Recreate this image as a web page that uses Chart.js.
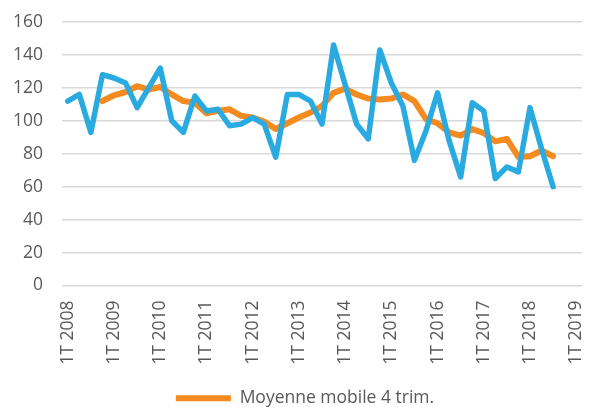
<!DOCTYPE html>
<html><head><meta charset="utf-8">
<script src="https://cdn.jsdelivr.net/npm/chart.js@4"></script>
<style>html,body{margin:0;padding:0;background:#fff}#wrap{width:590px;height:407px;position:relative}</style>
</head><body><div id="wrap"><canvas id="c"></canvas></div>
<script>
const categories = [
  '1T 2008','2T 2008','3T 2008','4T 2008',
  '1T 2009','2T 2009','3T 2009','4T 2009',
  '1T 2010','2T 2010','3T 2010','4T 2010',
  '1T 2011','2T 2011','3T 2011','4T 2011',
  '1T 2012','2T 2012','3T 2012','4T 2012',
  '1T 2013','2T 2013','3T 2013','4T 2013',
  '1T 2014','2T 2014','3T 2014','4T 2014',
  '1T 2015','2T 2015','3T 2015','4T 2015',
  '1T 2016','2T 2016','3T 2016','4T 2016',
  '1T 2017','2T 2017','3T 2017','4T 2017',
  '1T 2018','2T 2018','3T 2018','4T 2018',
  '1T 2019'
];
const quarterly = [112,116,93,128,126,123,108,120,132,100,93,115,106,107,97,98,102,98,78,116,116,112,98,146,122,98,89,143,123,109,76,94,117,88,66,111,106,65,72,69,108,83,60];
const movingAvg = [null,null,null,112,115.5,117.5,121,119,120.5,116,112,111,104.5,106,107,103,102,99.5,95,98.5,102,105,109,117,119.5,116,113.5,113,113.5,116,112,101,98.5,93,91,95,92.5,87.5,89,78,78.5,82,78.5];
const yTicks = [0,20,40,60,80,100,120,140,160];
const seriesNames = ['Trimestriel','Moyenne mobile 4 trim.'];

const textColor = '#595959';
const fontFamily = 'Open Sans';

const legendShift = {
  id: 'legendShift',
  afterLayout(chart) {
    const lg = chart.legend;
    if (lg) { lg.left += 14; lg.right += 14; }
  }
};

new Chart(document.getElementById('c'), {
  type: 'line',
  data: {
    labels: categories,
    datasets: [
      {label: seriesNames[0], data: quarterly, borderColor: '#29ABE2', backgroundColor: '#29ABE2',
       borderWidth: 5.5, pointRadius: 0, tension: 0, borderJoinStyle: 'round', borderCapStyle: 'round', fill: false},
      {label: seriesNames[1], data: movingAvg, borderColor: '#F58A1F', backgroundColor: '#F58A1F',
       borderWidth: 6, pointRadius: 0, tension: 0, borderJoinStyle: 'round', borderCapStyle: 'round', fill: false}
    ]
  },
  plugins: [legendShift],
  options: {
    responsive: true, maintainAspectRatio: false, animation: false,
    layout: {padding: {left: 0, right: 8, top: 22, bottom: -10}},
    plugins: {
      tooltip: {enabled: false},
      legend: {
        position: 'bottom',
        labels: {
          usePointStyle: true, pointStyle: 'line', pointStyleWidth: 55, padding: 0,
          color: textColor, font: {family: fontFamily, size: 17.5},
          filter: (item) => item.datasetIndex === 1
        }
      }
    },
    scales: {
      x: {
        offset: true,
        grid: {display: false, drawTicks: false},
        border: {display: false},
        ticks: {
          autoSkip: false, maxRotation: 90, minRotation: 90, padding: 15,
          color: textColor, font: {family: fontFamily, size: 17.5},
          callback: function(v, i) { return i % 4 === 0 ? categories[i] : null; }
        },
        afterFit: (s) => { s.height = 104; s.paddingLeft = 0; s.paddingRight = 0; }
      },
      y: {
        min: 0, max: 160,
        afterBuildTicks: (s) => { s.ticks = yTicks.map(v => ({value: v})); },
        grid: {color: '#d9d9d9', lineWidth: 1.5, drawTicks: false},
        border: {display: false},
        ticks: {padding: 19, color: textColor, font: {family: fontFamily, size: 17.5}},
        afterFit: (s) => { s.width = 62; s.paddingTop = 0; s.paddingBottom = 0; }
      }
    }
  }
});
</script>
</body></html>
